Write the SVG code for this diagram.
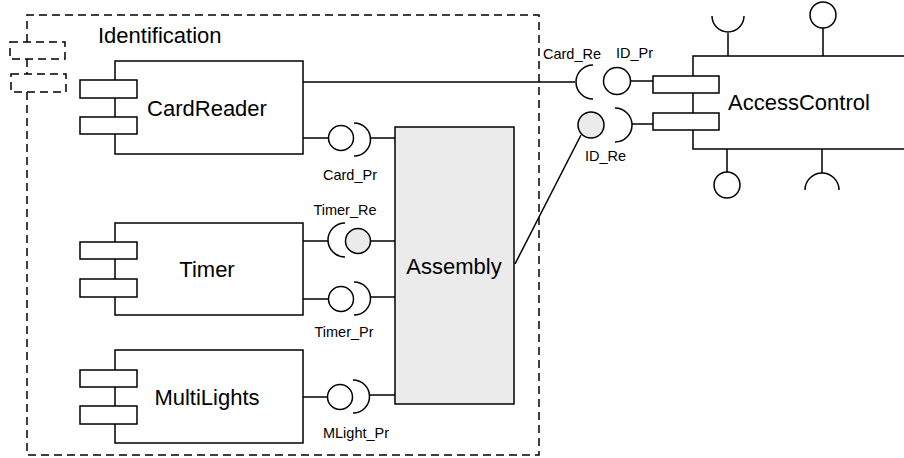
<svg xmlns="http://www.w3.org/2000/svg" width="904" height="458" viewBox="0 0 904 458">
<style>
.s{fill:none;stroke:#000;stroke-width:1.5}
.d{fill:none;stroke:#000;stroke-width:1.5;stroke-dasharray:8 5}
.b{fill:#fff;stroke:#000;stroke-width:1.5}
.g{fill:#ebebeb;stroke:#000;stroke-width:1.5}
.t{font-family:"Liberation Sans",Arial,sans-serif;font-size:22px;fill:#000}
.l{font-family:"Liberation Sans",Arial,sans-serif;font-size:14.5px;fill:#000}
</style>
<rect width="904" height="458" fill="#fff"/>
<g id="Identification">
<path class="d" d="M27 42 V15 H539 V455 H27 V92 M27 59 V74"/>
<rect class="d" x="10" y="42" width="55" height="17"/>
<rect class="d" x="11" y="74" width="55" height="18"/>
<text class="t" x="98" y="43">Identification</text>
</g>
<g id="CardReader">
<rect class="b" x="115" y="61" width="188" height="93"/>
<rect class="b" x="80" y="80" width="57" height="18"/>
<rect class="b" x="80" y="117" width="57" height="17"/>
<text class="t" x="207" y="116" text-anchor="middle">CardReader</text>
</g>
<g id="Timer">
<rect class="b" x="115" y="223" width="188" height="92"/>
<rect class="b" x="80" y="242" width="57" height="17"/>
<rect class="b" x="80" y="279" width="57" height="18"/>
<text class="t" x="207" y="277" text-anchor="middle">Timer</text>
</g>
<g id="MultiLights">
<rect class="b" x="115" y="350" width="188" height="93"/>
<rect class="b" x="80" y="370" width="57" height="17"/>
<rect class="b" x="80" y="406" width="57" height="18"/>
<text class="t" x="207" y="405" text-anchor="middle">MultiLights</text>
</g>
<g id="Assembly">
<rect class="g" x="395" y="127" width="119" height="277"/>
<text class="t" x="454" y="274" text-anchor="middle">Assembly</text>
</g>
<g id="AccessControl">
<rect class="b" x="693" y="56" width="220" height="93"/>
<rect class="b" x="653" y="76" width="66" height="17"/>
<rect class="b" x="653" y="113" width="66" height="17"/>
<text class="t" x="728" y="110">AccessControl</text>
<path class="s" d="M728 33 V56 M823 28 V56 M727 149 V172 M822 149 V173"/>
<path class="s" d="M712 16 A16 16 0 0 0 744 16"/>
<circle class="b" cx="823" cy="15" r="13"/>
<circle class="b" cx="727" cy="185" r="13"/>
<path class="s" d="M805 190 A17 17 0 0 1 839 190"/>
</g>
<g id="connectors">
<path class="s" d="M303 82 H575"/>
<path class="s" d="M593 65 A17 17 0 0 0 593 99"/>
<circle class="b" cx="617" cy="81" r="13.5"/>
<path class="s" d="M630.5 81 H653"/>
<path class="s" d="M515 264 L581 135"/>
<circle class="g" cx="591" cy="125" r="13"/>
<path class="s" d="M615 108 A17 17 0 0 1 615 142"/>
<path class="s" d="M632 124 H653"/>
<path class="s" d="M303 138 H328"/>
<circle class="b" cx="341" cy="138" r="12.5"/>
<path class="s" d="M354 123 A16.5 16.5 0 0 1 354 156"/>
<path class="s" d="M370 138 H395"/>
<path class="s" d="M303 241 H328"/>
<path class="s" d="M345 223 A17 17 0 0 0 345 257"/>
<circle class="g" cx="358" cy="241" r="12.5"/>
<path class="s" d="M370.5 241 H395"/>
<path class="s" d="M303 299 H328"/>
<circle class="b" cx="341" cy="299" r="12.5"/>
<path class="s" d="M354 282 A16.5 16.5 0 0 1 354 315"/>
<path class="s" d="M370 297 H395"/>
<path class="s" d="M303 397 H327"/>
<circle class="b" cx="340" cy="397" r="12.5"/>
<path class="s" d="M353 380 A16.5 16.5 0 0 1 353 413"/>
<path class="s" d="M369 395 H395"/>
</g>
<g id="labels">
<text class="l" x="543" y="59">Card_Re</text>
<text class="l" x="616" y="58">ID_Pr</text>
<text class="l" x="585" y="161">ID_Re</text>
<text class="l" x="350" y="180" text-anchor="middle">Card_Pr</text>
<text class="l" x="345" y="215" text-anchor="middle">Timer_Re</text>
<text class="l" x="344" y="337" text-anchor="middle">Timer_Pr</text>
<text class="l" x="356" y="438" text-anchor="middle">MLight_Pr</text>
</g>
</svg>
